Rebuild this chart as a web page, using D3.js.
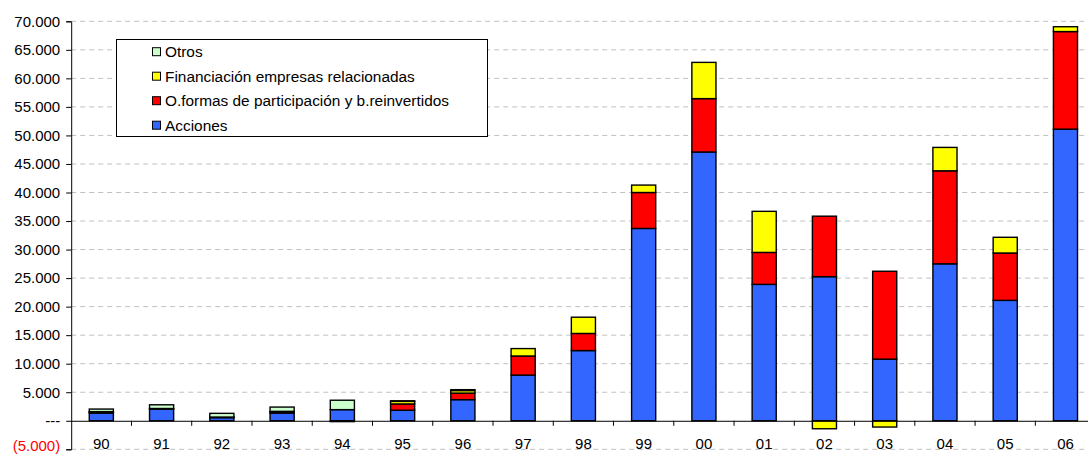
<!DOCTYPE html>
<html><head><meta charset="utf-8">
<script src="https://cdn.jsdelivr.net/npm/d3@7"></script>
<style>
body{margin:0;background:#fff;}
text{font-family:"Liberation Sans",Arial,sans-serif;}
</style></head>
<body><svg id="c" width="1088" height="454"></svg>
<script>
const categories = ["90","91","92","93","94","95","96","97","98","99","00","01","02","03","04","05","06"];
const acciones   = [1350,2050,550,1350,1950,1850,3700,8000,12300,33700,47100,23900,25250,10800,27500,21100,51100];
const oformas    = [150,0,50,150,-150,1100,1150,3350,3000,6300,9350,5600,10600,15400,16300,8300,17100];
const financ     = [100,100,50,150,0,450,450,1300,2850,1300,6350,7200,-1400,-1100,4100,2750,850];
const otros      = [450,650,650,750,1650,100,150,0,0,0,0,0,0,0,0,0,0];
const seriesNames = ["Acciones","O.formas de participación y b.reinvertidos","Financiación empresas relacionadas","Otros"];
const seriesColors = ["#3366FF","#FF0000","#FFFF00","#CCFFCC"];
const yTicks = [-5000,0,5000,10000,15000,20000,25000,30000,35000,40000,45000,50000,55000,60000,65000,70000];

(function(){
const svg = d3.select("#c");
const pl = 71.2, pr = 1095.6, pt = 21.3, pb = 449.3;
const y = d3.scaleLinear().domain([-5000,70000]).range([pb, pt]);
const x = d3.scaleBand().domain(categories).range([pl, pr]).paddingInner(0.6).paddingOuter(0.3);
const xb = d3.scaleBand().domain(categories).range([pl, pr]);

const loc = d3.formatLocale({decimal:",", thousands:".", grouping:[3], currency:["",""]});
const fk = loc.format(",");
const fmt = v => v === 0 ? "---" : (v < 0 ? "(" + fk(-v/1000) + ".000)" : fk(v/1000) + ".000");

// gridlines
svg.append("g").selectAll("line").data(yTicks.filter(t=>t!==0)).join("line")
  .attr("x1", pl).attr("x2", 1088)
  .attr("y1", d=>y(d)).attr("y2", d=>y(d))
  .attr("stroke", "#c0c0c0").attr("stroke-width", 1).attr("stroke-dasharray", "5,4");

// y axis
const yAxis = d3.axisLeft(y).tickValues(yTicks).tickSize(5).tickFormat(fmt);
const ga = svg.append("g").attr("transform", `translate(${pl},0)`).call(yAxis);
ga.select(".domain").attr("stroke","#000");
ga.selectAll(".tick line").attr("stroke","#000");
ga.selectAll(".tick text").attr("font-size", 15).attr("font-family","Liberation Sans, Arial, sans-serif")
  .attr("fill", d => d < 0 ? "#FF0000" : "#000").attr("x", -11)
  .attr("y", d => d < 0 ? -4 : 0);

// data stacking
const rows = categories.map((c,i)=>({cat:c, "Acciones":acciones[i],
  "O.formas de participación y b.reinvertidos":oformas[i],
  "Financiación empresas relacionadas":financ[i], "Otros":otros[i]}));
const stack = d3.stack().keys(seriesNames).offset(d3.stackOffsetDiverging);
const stacked = stack(rows);

svg.append("g").selectAll("g").data(stacked).join("g")
  .attr("fill", (d,i)=>seriesColors[i])
  .selectAll("rect").data(d=>d.filter(p=>p[1]!==p[0])).join("rect")
  .attr("x", d=>x(d.data.cat)).attr("width", x.bandwidth())
  .attr("y", d=>y(Math.max(d[0],d[1]))).attr("height", d=>Math.abs(y(d[0])-y(d[1])))
  .attr("stroke","#000").attr("stroke-width",1.4);

// x axis line at zero
const xAxis = d3.axisBottom(xb).tickSize(0).tickFormat(d=>d);
const gx = svg.append("g").attr("transform", `translate(0,${y(0)})`).call(xAxis);
gx.select(".domain").attr("stroke","#000").attr("d", `M${pl},0.5H1088`);
gx.selectAll(".tick text").attr("font-size", 15).attr("font-family","Liberation Sans, Arial, sans-serif")
  .attr("fill","#000").attr("dy", 0).attr("y", 28);
// boundary ticks
svg.append("g").selectAll("line").data(categories.slice(1)).join("line")
  .attr("x1", d=>xb(d)).attr("x2", d=>xb(d))
  .attr("y1", y(0)).attr("y2", y(0)+5).attr("stroke","#000");

// legend
const lg = svg.append("g");
lg.append("rect").attr("x",116.5).attr("y",39.5).attr("width",371).attr("height",97)
  .attr("fill","#fff").attr("stroke","#000").attr("stroke-width",1);
const legendOrder = [3,2,1,0];
legendOrder.forEach((si,k)=>{
  const cy = 51.7 + k*24.5;
  lg.append("rect").attr("x",152.5).attr("y",cy-4).attr("width",8).attr("height",8)
    .attr("fill",seriesColors[si]).attr("stroke","#000").attr("stroke-width",1);
  lg.append("text").attr("x",165).attr("y",cy+5.5).attr("font-size",15.4).attr("fill","#000").text(seriesNames[si]);
});
})();
</script></body></html>
